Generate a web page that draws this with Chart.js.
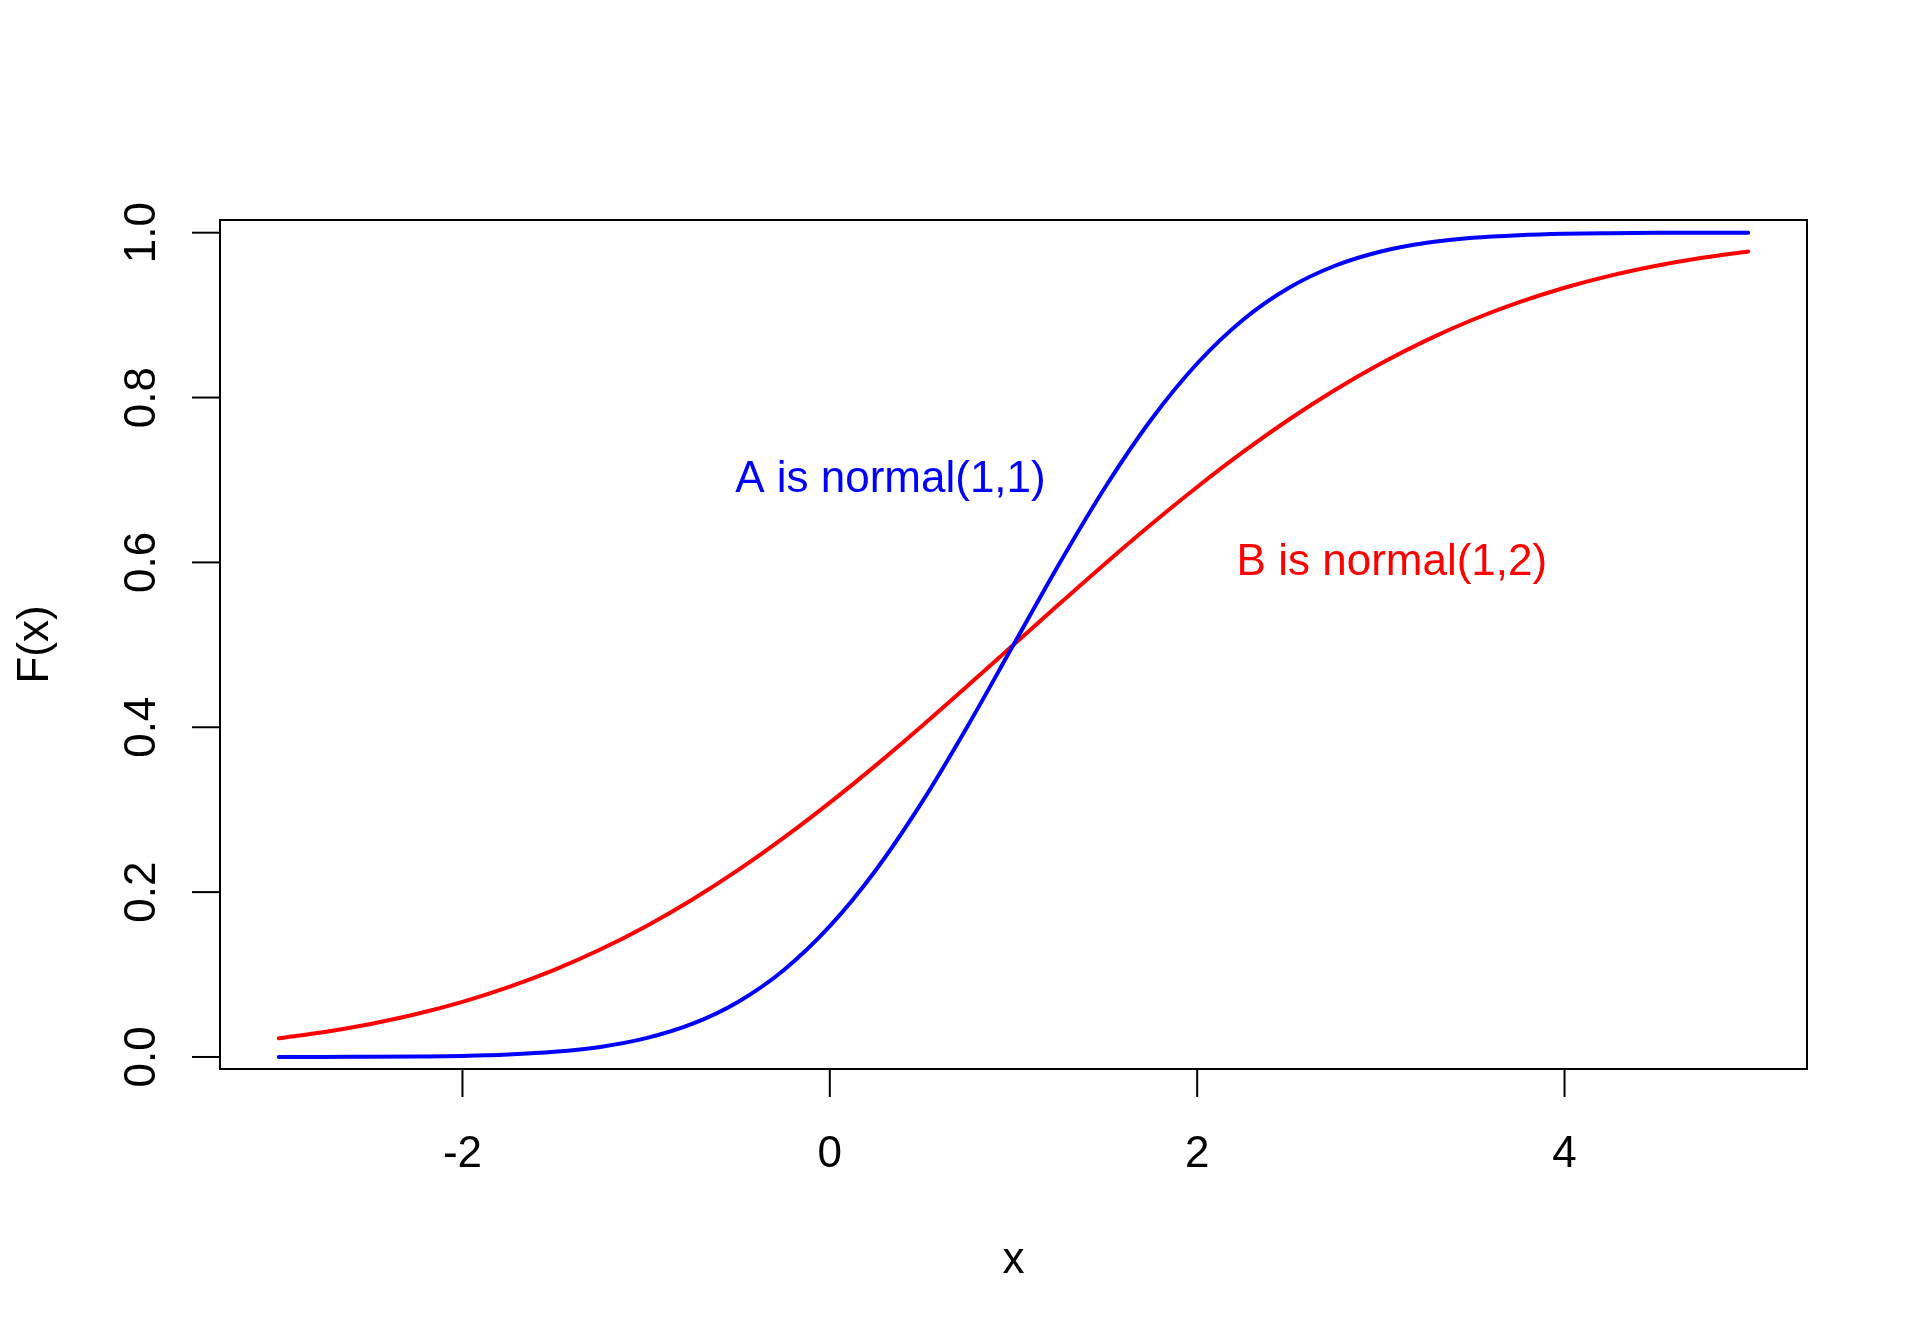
<!DOCTYPE html>
<html>
<head>
<meta charset="utf-8">
<script src="https://cdn.jsdelivr.net/npm/chart.js@4/dist/chart.umd.min.js"></script>
<style>
  html, body { margin: 0; padding: 0; background: #ffffff; }
  #wrap { width: 1920px; height: 1344px; }
</style>
</head>
<body>
<div id="wrap"><canvas id="c" width="1920" height="1344"></canvas></div>
<script>
// ---- data ----
const xValues = [-3, -2.75, -2.5, -2.25, -2, -1.75, -1.5, -1.25, -1, -0.75, -0.5, -0.25, 0,
                 0.25, 0.5, 0.75, 1, 1.25, 1.5, 1.75, 2, 2.25, 2.5, 2.75, 3,
                 3.25, 3.5, 3.75, 4, 4.25, 4.5, 4.75, 5];
const seriesA = [0.0000, 0.0001, 0.0002, 0.0006, 0.0013, 0.0030, 0.0062, 0.0122, 0.0228,
                 0.0401, 0.0668, 0.1056, 0.1587, 0.2266, 0.3085, 0.4013, 0.5000,
                 0.5987, 0.6915, 0.7734, 0.8413, 0.8944, 0.9332, 0.9599, 0.9772,
                 0.9878, 0.9938, 0.9970, 0.9987, 0.9994, 0.9998, 0.9999, 1.0000];
const seriesB = [0.0228, 0.0304, 0.0401, 0.0521, 0.0668, 0.0846, 0.1056, 0.1303, 0.1587,
                 0.1908, 0.2266, 0.2660, 0.3085, 0.3538, 0.4013, 0.4503, 0.5000,
                 0.5497, 0.5987, 0.6462, 0.6915, 0.7340, 0.7734, 0.8092, 0.8413,
                 0.8697, 0.8944, 0.9154, 0.9332, 0.9479, 0.9599, 0.9696, 0.9772];
const seriesNames = ['A', 'B'];
const xTicks = [-2, 0, 2, 4];
const yTicks = [0, 0.2, 0.4, 0.6, 0.8, 1.0];
const yTickLabels = ['0.0', '0.2', '0.4', '0.6', '0.8', '1.0'];
const xTickLabels = ['-2', '0', '2', '4'];
const xTitle = 'x';
const yTitle = 'F(x)';
const noteTexts = ['A is normal(1,1)', 'B is normal(1,2)'];
const noteX = [0.33, 3.06];
const noteY = [0.7, 0.6];

// ---- styling ----
const FONT = '44px "Liberation Sans", Arial, Helvetica, sans-serif';
const colors = ['#0000ff', '#ff0000'];

const toPts = (ys) => xValues.map((x, i) => ({ x: x, y: ys[i] }));

const rAxesPlugin = {
  id: 'rAxes',
  afterDraw(chart) {
    const ctx = chart.ctx;
    const a = chart.chartArea;
    const xs = chart.scales.x, ys = chart.scales.y;
    ctx.save();
    ctx.strokeStyle = '#000';
    ctx.lineWidth = 2;
    // box
    ctx.strokeRect(a.left, a.top, a.right - a.left, a.bottom - a.top);
    // x axis ticks & labels
    ctx.font = FONT;
    ctx.fillStyle = '#000';
    ctx.textAlign = 'center';
    ctx.textBaseline = 'alphabetic';
    xTicks.forEach((v, i) => {
      const px = xs.getPixelForValue(v);
      ctx.beginPath();
      ctx.moveTo(px, a.bottom);
      ctx.lineTo(px, a.bottom + 28);
      ctx.stroke();
      ctx.fillText(xTickLabels[i], px, a.bottom + 98);
    });
    // y axis ticks & labels (rotated)
    yTicks.forEach((v, i) => {
      const py = ys.getPixelForValue(v);
      ctx.beginPath();
      ctx.moveTo(a.left, py);
      ctx.lineTo(a.left - 28, py);
      ctx.stroke();
      ctx.save();
      ctx.translate(a.left - 65, py);
      ctx.rotate(-Math.PI / 2);
      ctx.fillText(yTickLabels[i], 0, 0);
      ctx.restore();
    });
    // axis titles
    ctx.fillText(xTitle, (a.left + a.right) / 2, a.bottom + 204);
    ctx.save();
    ctx.translate(48, (a.top + a.bottom) / 2);
    ctx.rotate(-Math.PI / 2);
    ctx.fillText(yTitle, 0, 0);
    ctx.restore();
    // annotations
    ctx.textBaseline = 'middle';
    noteTexts.forEach((t, i) => {
      ctx.fillStyle = colors[i];
      ctx.fillText(t, xs.getPixelForValue(noteX[i]), ys.getPixelForValue(noteY[i]));
    });
    ctx.restore();
  }
};

new Chart(document.getElementById('c'), {
  type: 'line',
  data: {
    datasets: [
      { label: seriesNames[0], data: toPts(seriesA), borderColor: colors[0], borderWidth: 4,
        borderCapStyle: 'round', borderJoinStyle: 'round',
        pointRadius: 0, fill: false, cubicInterpolationMode: 'monotone' },
      { label: seriesNames[1], data: toPts(seriesB), borderColor: colors[1], borderWidth: 4,
        borderCapStyle: 'round', borderJoinStyle: 'round',
        pointRadius: 0, fill: false, cubicInterpolationMode: 'monotone' }
    ]
  },
  options: {
    responsive: false,
    animation: false,
    devicePixelRatio: 1,
    layout: { padding: { left: 220, top: 220, right: 113, bottom: 275 } },
    plugins: { legend: { display: false }, tooltip: { enabled: false } },
    scales: {
      x: { type: 'linear', min: -3.32, max: 5.32, display: false },
      y: { type: 'linear', min: -0.0146, max: 1.0154, display: false }
    }
  },
  plugins: [rAxesPlugin]
});
</script>
</body>
</html>
